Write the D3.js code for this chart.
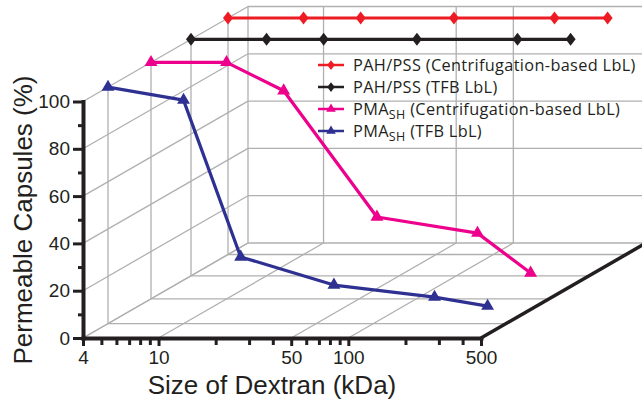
<!DOCTYPE html>
<html>
<head>
<meta charset="utf-8">
<script src="https://cdn.jsdelivr.net/npm/d3@7"></script>
<style>
  body { margin: 0; background: #fff; }
  svg { display: block; }
  .tick text { font-family: "Liberation Sans", Arial, sans-serif; }
</style>
</head>
<body>
<div id="chart"></div>
<script>
// Values
const dextranSizes = [4, 10, 20, 62, 210, 400];
const pahCentrifugation = [100, 100, 100, 100, 100, 100];
const pahTfb = [100, 100, 100, 100, 100, 100];
const pmaCentrifugation = [100, 100, 88, 34.6, 27.8, 10.9];
const pmaTfb = [100, 94.5, 28.2, 16.3, 11.2, 7.4];

const seriesNames = [
  "PAH/PSS (Centrifugation-based LbL)",
  "PAH/PSS (TFB LbL)",
  "PMA_SH (Centrifugation-based LbL)",
  "PMA_SH (TFB LbL)"
];
const xTickValues = [4, 10, 50, 100, 500];
const xMinorTicks = [5, 6, 7, 8, 9, 20, 30, 40, 60, 70, 80, 90, 200, 300, 400];
const yTickValues = [0, 20, 40, 60, 80, 100];
const yMinorTicks = [10, 30, 50, 70, 90];

const width = 642;
const height = 404;

const series = [
  { name: seriesNames[0], values: pahCentrifugation, color: "#ed1c24", marker: "diamond" },
  { name: seriesNames[1], values: pahTfb, color: "#231f20", marker: "diamond" },
  { name: seriesNames[2], values: pmaCentrifugation, color: "#ec008c", marker: "triangle" },
  { name: seriesNames[3], values: pmaTfb, color: "#2e3192", marker: "triangle" }
];

const x = d3.scaleLog().domain([4, 500]).range([83, 481]);
const y = d3.scaleLinear().domain([0, 100]).range([338, 101.5]);

// oblique depth: pixels along the receding direction
const depthMax = 165;
const slope = 95 / 165;
const depth = d3.scaleOrdinal().domain(seriesNames).range([145, 108, 68, 25]);

const pt = (xv, yv, dz) => [x(xv) + dz, y(yv) - dz * slope];
const seg = (a, b) => `M${a[0]},${a[1]}L${b[0]},${b[1]}`;

const svg = d3.select("#chart")
  .append("svg")
    .attr("width", width)
    .attr("height", height);

// Grid on the three walls
const gridPaths = [];
yTickValues.forEach(v => {
  gridPaths.push(seg(pt(4, v, depthMax), pt(500, v, depthMax)));
  gridPaths.push(seg(pt(4, v, 0), pt(4, v, depthMax)));
});
xTickValues.forEach(v => {
  gridPaths.push(seg(pt(v, 0, depthMax), pt(v, 100, depthMax)));
});
xTickValues.slice(0, -1).forEach(v => {
  gridPaths.push(seg(pt(v, 0, 0), pt(v, 0, depthMax)));
});
seriesNames.forEach(n => {
  gridPaths.push(seg(pt(4, 0, depth(n)), pt(4, 100, depth(n))));
  gridPaths.push(seg(pt(4, 0, depth(n)), pt(500, 0, depth(n))));
});

svg.append("g")
    .attr("fill", "none")
    .attr("stroke", "#b0b0b0")
    .attr("stroke-width", 1.3)
  .selectAll("path")
  .data(gridPaths)
  .join("path")
    .attr("d", d => d);

// Floor right edge
svg.append("path")
  .attr("d", seg(pt(500, 0, 0), pt(500, 0, depthMax)))
  .attr("stroke", "#231f20")
  .attr("stroke-width", 3.5)
  .attr("fill", "none");

// Legend
const legend = svg.append("g")
  .attr("transform", "translate(318, 65)");

const markerPath = (type, s) => type === "diamond"
  ? `M0,${-6.5 * s}L${5 * s},0L0,${6.5 * s}L${-5 * s},0Z`
  : d3.symbol(d3.symbolTriangle, 72 * s * s)();

const rows = legend.selectAll(".legend-row")
  .data(series)
  .join("g")
    .attr("class", "legend-row")
    .attr("transform", (d, i) => `translate(0, ${i * 22})`);

rows.append("line")
    .attr("x1", 0)
    .attr("x2", 26)
    .attr("stroke", d => d.color)
    .attr("stroke-width", 2.5);

rows.append("path")
    .attr("transform", "translate(13, 0)")
    .attr("d", d => markerPath(d.marker, 0.75))
    .attr("fill", d => d.color);

const labels = rows.append("text")
    .attr("x", 35)
    .attr("dy", "0.36em")
    .attr("font-family", "'Open Sans', sans-serif")
    .attr("font-size", 16.3)
    .attr("letter-spacing", 0.35)
    .attr("fill", "#231f20");

labels.each(function(d) {
  const t = d3.select(this);
  const parts = d.name.split("_");
  if (parts.length === 1) {
    t.text(d.name);
    return;
  }
  const sub = parts[1].split(" ")[0];
  t.append("tspan").text(parts[0]);
  t.append("tspan").attr("font-size", 12.5).attr("dy", 4).text(sub);
  t.append("tspan").attr("dy", -4).text(parts[1].slice(sub.length));
});

// Series, back to front
const line = d3.line()
  .x(d => d.p[0])
  .y(d => d.p[1]);

series.forEach(s => {
  const pts = dextranSizes.map((v, i) => ({ p: pt(v, s.values[i], depth(s.name)) }));
  const g = svg.append("g");
  g.append("path")
    .attr("d", line(pts))
    .attr("fill", "none")
    .attr("stroke", s.color)
    .attr("stroke-width", 3.2)
    .attr("stroke-linejoin", "round");
  g.selectAll("path.marker")
    .data(pts)
    .join("path")
      .attr("class", "marker")
      .attr("transform", d => `translate(${d.p[0]}, ${d.p[1]})`)
      .attr("d", markerPath(s.marker, 1))
      .attr("fill", s.color);
});

// Axes
svg.append("g")
  .attr("transform", `translate(${x(4)}, 0)`)
  .call(d3.axisLeft(y).tickValues(yTickValues).tickSize(10).tickSizeOuter(0).tickPadding(3));

svg.append("g")
  .attr("transform", `translate(${x(4)}, 0)`)
  .call(d3.axisLeft(y).tickValues(yMinorTicks).tickSize(5).tickFormat(""))
  .call(g => g.select(".domain").remove());

svg.append("g")
  .attr("transform", `translate(0, ${y(0)})`)
  .call(d3.axisBottom(x).tickValues(xTickValues).tickFormat(d3.format("d")).tickSize(8).tickSizeOuter(0).tickPadding(5));

svg.append("g")
  .attr("transform", `translate(0, ${y(0)})`)
  .call(d3.axisBottom(x).tickValues(xMinorTicks).tickSize(7).tickFormat(""))
  .call(g => g.select(".domain").remove());

svg.selectAll(".domain")
  .attr("stroke", "#231f20")
  .attr("stroke-width", 4)
  .attr("stroke-linecap", "square");

svg.selectAll(".tick line")
  .attr("stroke", "#231f20")
  .attr("stroke-width", 3);

svg.selectAll(".tick text")
  .attr("font-size", 19)
  .attr("fill", "#231f20");

// Axis titles
svg.append("text")
  .attr("x", 272)
  .attr("y", 394)
  .attr("text-anchor", "middle")
  .attr("font-family", "'Liberation Sans', Arial, sans-serif")
  .attr("font-size", 26)
  .attr("fill", "#231f20")
  .text("Size of Dextran (kDa)");

svg.append("text")
  .attr("transform", "translate(32, 220) rotate(-90)")
  .attr("text-anchor", "middle")
  .attr("font-family", "'Liberation Sans', Arial, sans-serif")
  .attr("font-size", 26)
  .attr("fill", "#231f20")
  .text("Permeable Capsules (%)");
</script>
</body>
</html>
